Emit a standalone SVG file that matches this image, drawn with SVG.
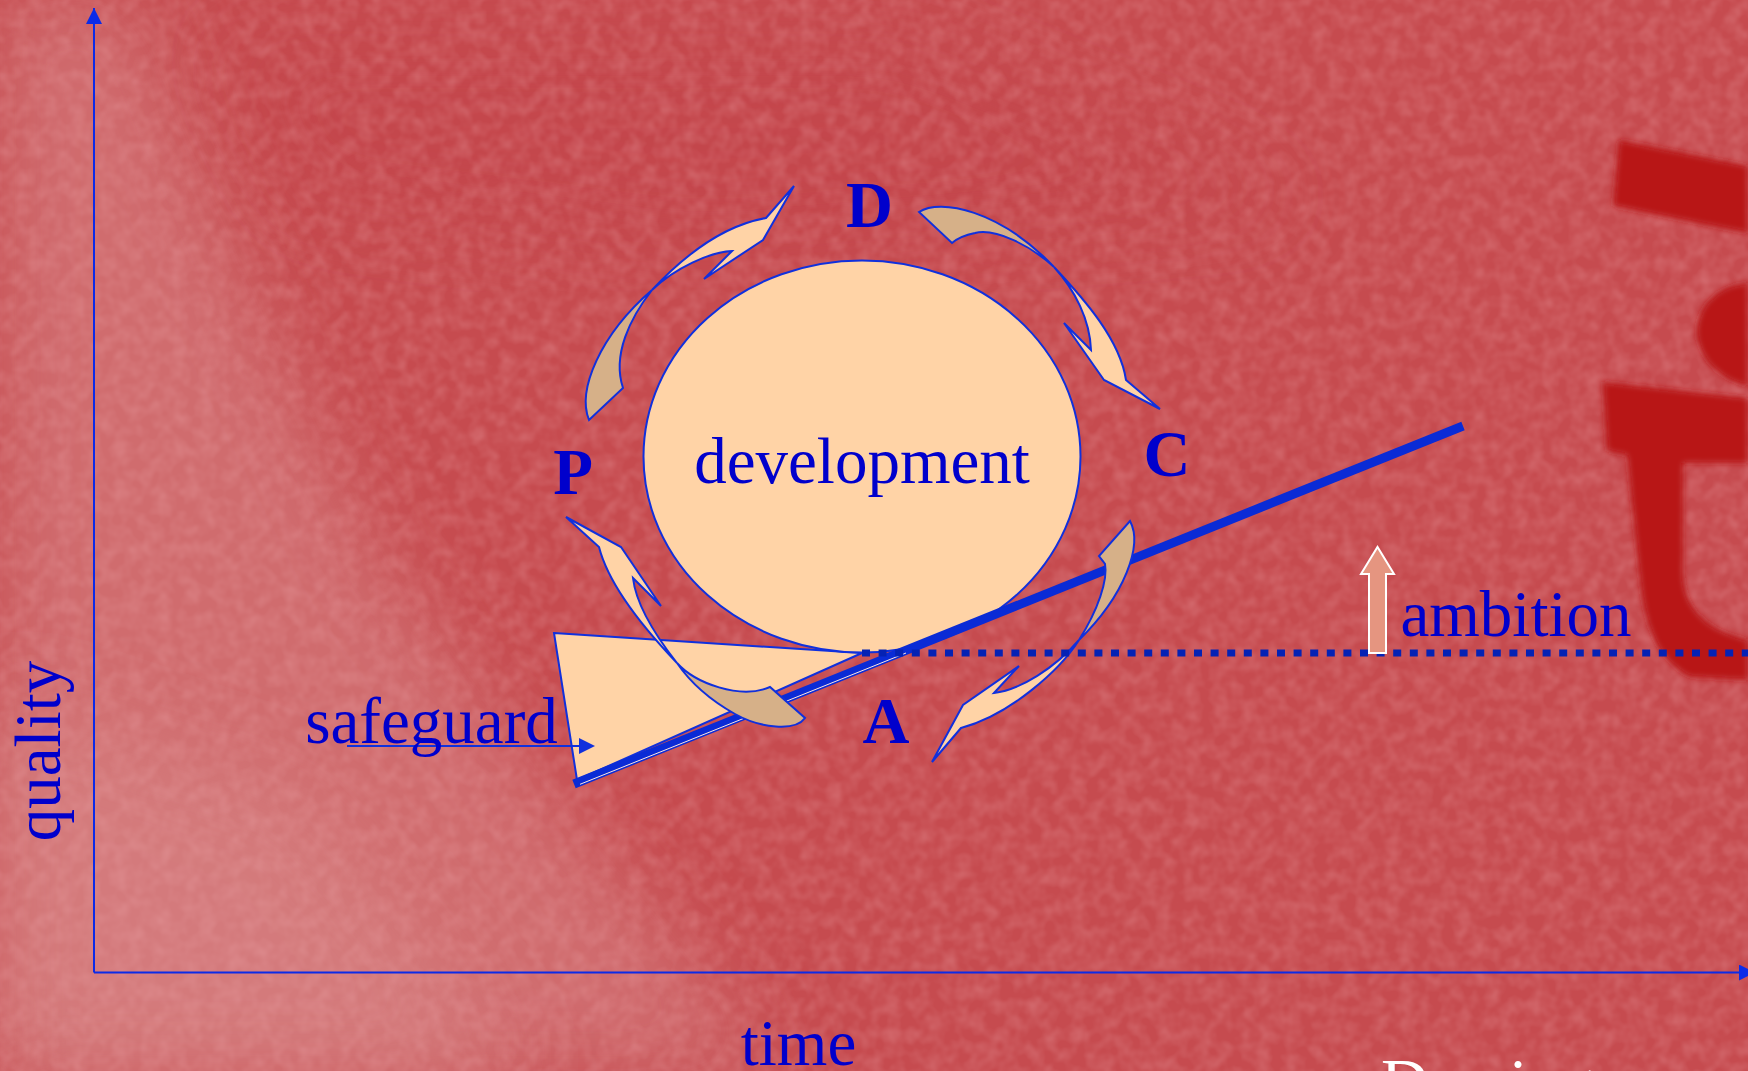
<svg xmlns="http://www.w3.org/2000/svg" width="1748" height="1071" viewBox="0 0 1748 1071">
<style>
.lbl{font-family:"Liberation Serif","Times New Roman",serif;font-size:65px;fill:#0000CC}
.bold{font-weight:bold}
.axis{stroke:#0B2BE8;stroke-width:2;fill:none}
.shape{stroke:#1030DD;stroke-width:2;stroke-linejoin:miter}
.light{fill:#FFD3A6}
.dark{fill:#D6B088}
</style>
<defs>
<filter id="blurBig" x="-20%" y="-20%" width="140%" height="140%"><feGaussianBlur stdDeviation="40"/></filter>
<filter id="blurSmall" x="-20%" y="-20%" width="140%" height="140%"><feGaussianBlur stdDeviation="3"/></filter>
<filter id="noise" x="0" y="0" width="100%" height="100%">
<feTurbulence type="fractalNoise" baseFrequency="0.07" numOctaves="2" seed="5"/>
<feColorMatrix type="matrix" values="0 0 0 0 0.86  0 0 0 0 0.40  0 0 0 0 0.42  0 0 0 0.5 -0.17"/>
</filter>
<marker id="arrowHead" viewBox="0 0 16 16" refX="16" refY="8" markerWidth="16" markerHeight="16" markerUnits="userSpaceOnUse" orient="auto">
<path d="M0,0 L16,8 L0,16 Z" fill="#0B2BE8"/>
</marker>
</defs>

<g id="background">
<rect x="0" y="0" width="1748" height="1071" fill="#C64B4F"/>
<polygon points="0,0 130,0 175,120 270,340 380,560 540,780 680,950 770,1071 0,1071" fill="#D06C6E" filter="url(#blurBig)"/>
<polygon points="0,700 300,800 520,1071 0,1071" fill="#D47A7B" filter="url(#blurBig)"/>
<polygon points="220,40 900,40 1300,200 700,250 300,200" fill="#C2434A" opacity="0.5" filter="url(#blurBig)"/>
<rect x="0" y="0" width="1748" height="1071" filter="url(#noise)"/>
<g fill="#B81518" filter="url(#blurSmall)">
<polygon points="1619,140 1748,166 1748,233 1613,206"/>
<path d="M1748,283 C1715,285 1695,310 1697,335 C1700,360 1720,380 1748,386 Z"/>
<path d="M1603,382 L1748,398 L1748,463 L1683,463 L1683,575 C1685,605 1700,628 1748,640 L1748,680 L1690,677 C1660,662 1645,630 1640,580 L1627,455 L1607,451 Z"/>
</g>
<text x="1381" y="1104" font-family="Liberation Serif, serif" font-size="66" fill="#FFFFFF">Deming</text>
</g>

<g id="axes">
<line class="axis" x1="94" y1="972.5" x2="94" y2="8" marker-end="url(#arrowHead)"/>
<line class="axis" x1="94" y1="972.5" x2="1755" y2="972.5" marker-end="url(#arrowHead)"/>
</g>

<g id="safeguard-triangle">
<polygon class="shape light" points="554,633 862,653 577,780"/>
</g>

<g id="development">
<ellipse class="shape light" cx="862" cy="456.5" rx="218.5" ry="196"/>
<text class="lbl" x="862" y="483" text-anchor="middle" font-size="66">development</text>
</g>

<g id="connectors">
<line x1="574" y1="784" x2="1463" y2="426" stroke="#0A2BD6" stroke-width="9"/>
<line x1="580" y1="784.3" x2="906" y2="653" stroke="#FFE6E0" stroke-width="1"/>
<line x1="347" y1="746" x2="580" y2="746" stroke="#1030DD" stroke-width="2"/>
<polygon points="579,738 595,746 579,754" fill="#1030DD"/>
</g>

<g id="arrow-P-D">
<path class="shape dark" d="M589,420 C577,390 600,335 652,290 C630,318 612,355 623,388 Z"/>
<path class="shape light" d="M652,290 C680,260 720,226 766,218 L794,186 L763,240 L704,279 L732,251 C710,252 675,268 652,290 Z"/>
</g>
<g id="arrow-D-C">
<path class="shape dark" d="M919,212 C940,198 1000,210 1054,267 C1030,245 995,228 975,233 Q960,236 952,243 Z"/>
<path class="shape light" d="M1054,267 C1085,300 1120,340 1126,380 L1160,409 L1104,380 L1064,323 L1091,350 C1090,320 1075,290 1054,267 Z"/>
</g>
<g id="arrow-C-A">
<path class="shape dark" d="M1130,521 C1143,545 1125,595 1079,640 C1098,610 1108,580 1105,564 L1099,556 Z"/>
<path class="shape light" d="M1079,640 C1060,670 1010,715 961,728 L932,762 L963,705 L1019,666 L994,693 C1020,690 1055,668 1079,640 Z"/>
</g>
<g id="arrow-A-P">
<path class="shape dark" d="M677,663 C695,683 740,700 770,687 L805,718 C795,732 760,728 735,714 C710,700 690,682 677,663 Z"/>
<path class="shape light" d="M677,663 C655,640 610,590 599,547 L566,517 L621,547 L661,606 L633,578 C636,605 655,635 677,663 Z"/>
</g>

<g id="ambition-line">
<line x1="862" y1="653" x2="1748" y2="653" stroke="#0522B4" stroke-width="7" stroke-dasharray="8 8.6"/>
</g>

<g id="ambition">
<path d="M1369,653 L1369,574 L1361,574 L1377.5,547 L1394,574 L1386,574 L1386,653 Z" fill="#E59580" stroke="#FFFFFF" stroke-width="2"/>
<text class="lbl" x="1516" y="636" text-anchor="middle">ambition</text>
</g>

<g id="labels">
<text class="lbl bold" x="869.5" y="227" text-anchor="middle">D</text>
<text class="lbl bold" x="573" y="494" text-anchor="middle">P</text>
<text class="lbl bold" x="1167" y="476" text-anchor="middle">C</text>
<text class="lbl bold" x="886" y="743" text-anchor="middle">A</text>
<text class="lbl" x="431.5" y="743" text-anchor="middle">safeguard</text>
<text class="lbl" x="798.5" y="1065" text-anchor="middle">time</text>
<text class="lbl" transform="translate(60,751) rotate(-90)" text-anchor="middle">quality</text>
</g>
</svg>
